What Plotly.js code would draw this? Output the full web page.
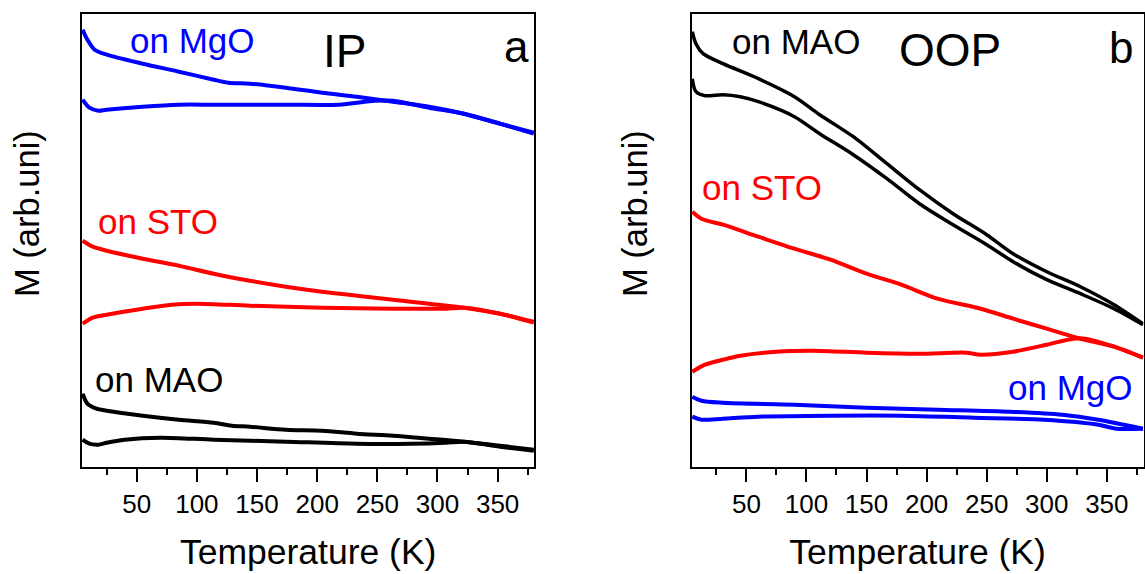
<!DOCTYPE html>
<html>
<head>
<meta charset="utf-8">
<script src="https://cdn.plot.ly/plotly-3.0.1.min.js"></script>
<style>html,body{margin:0;padding:0;background:#fff;}#chart{width:1145px;height:574px;}</style>
</head>
<body>
<div id="chart"></div>
<script>
// ---------- Panel a (IP) ----------
const ipMgoUpT = [5, 9, 15, 25, 55, 85, 114, 126, 144, 174, 204, 233, 263, 293, 322, 352, 380];
const ipMgoUpM = [437, 427, 417, 412, 403, 395, 387, 384, 383, 379, 374, 370, 365, 360, 353, 343, 334];
const ipMgoDnT = [5, 10.6, 18, 25, 55, 85, 114, 174, 218, 248, 263, 293, 322, 352, 380];
const ipMgoDnM = [367, 359, 356, 357, 360, 362, 362, 362, 362, 366, 366, 359, 353, 343, 333];

const ipStoUpT = [5, 13.5, 25, 55, 85, 114, 144, 174, 204, 233, 263, 293, 322, 352, 380];
const ipStoUpM = [226, 220, 216, 208, 201, 193, 186, 180, 175, 171, 167, 163, 159, 153, 145];
const ipStoDnT = [5, 13.5, 25, 55, 79, 100, 144, 204, 263, 307, 322, 352, 380];
const ipStoDnM = [143, 149, 152, 158, 162, 163, 161, 159, 158, 158, 159, 153, 144];

const ipMaoUpT = [5, 9, 16.5, 25, 55, 85, 114, 129, 144, 174, 204, 233, 263, 293, 322, 352, 380];
const ipMaoUpM = [73, 63, 58, 56, 51, 47, 44, 41, 40, 37, 36, 33, 31, 28, 25, 21, 17];
const ipMaoDnT = [5, 10.6, 18, 25, 40, 70, 114, 174, 233, 278, 307, 322, 352, 380];
const ipMaoDnM = [27, 23, 22, 24, 27, 29, 27, 25, 23, 23, 24, 25, 20, 16];

// ---------- Panel b (OOP) ----------
const oopMaoUpT = [5, 8, 14, 30.5, 60, 90, 111, 139, 167, 194, 222, 250, 272, 300, 328, 356, 380];
const oopMaoUpM = [435, 423, 413, 403, 388, 370, 352, 330, 303, 277, 253, 232, 213, 195, 180, 162, 143];
const oopMaoDnT = [5, 8, 15.6, 30.5, 45, 60, 90, 111, 139, 167, 194, 222, 250, 272, 300, 328, 356, 380];
const oopMaoDnM = [388, 375, 371, 372, 370, 365, 350, 333, 312, 288, 263, 242, 222, 205, 187, 173, 158, 142];

const oopStoUpT = [5, 12.6, 30.5, 60, 90, 120, 150, 179, 209, 245, 272, 300, 328, 356, 380];
const oopStoUpM = [255, 248, 242, 230, 218, 207, 193, 182, 168, 158, 148, 138, 128, 120, 109];
const oopStoDnT = [5, 15.6, 30.5, 45, 75, 105, 150, 194, 233, 245, 272, 300, 322, 332, 356, 380];
const oopStoDnM = [95, 102, 107, 111, 115, 116, 114, 113, 114, 112, 115, 122, 128, 128, 120, 109];

const oopMgoUpT = [5, 12.6, 30.5, 90, 150, 209, 269, 313, 343, 380];
const oopMgoUpM = [70, 66, 64, 62, 59, 57, 55, 52, 47, 38];
const oopMgoDnT = [5, 12.6, 30.5, 60, 120, 179, 239, 298, 343, 358, 380];
const oopMgoDnM = [50, 47, 48, 50, 51, 51, 49, 47, 42, 38, 38];

const xTickVals = [50, 100, 150, 200, 250, 300, 350];
const labels = {
  a: ["on MgO", "IP", "a", "on STO", "on MAO"],
  b: ["on MAO", "OOP", "b", "on STO", "on MgO"]
};
const xTitle = "Temperature (K)";
const yTitle = "M (arb.uni)";

const FONT = "Arial, 'Liberation Sans', sans-serif";
const BLUE = "#0000ff", RED = "#ff0000", BLACK = "#000000";

function tr(x, y, xa, ya, color, w) {
  return {x: x, y: y, xaxis: xa, yaxis: ya, mode: "lines", type: "scatter",
    line: {color: color, width: w, shape: "spline", smoothing: 0.8}, hoverinfo: "skip", showlegend: false};
}

const data = [
  tr(ipMgoUpT, ipMgoUpM, "x", "y", BLUE, 4),
  tr(ipMgoDnT, ipMgoDnM, "x", "y", BLUE, 4),
  tr(ipStoUpT, ipStoUpM, "x", "y", RED, 4),
  tr(ipStoDnT, ipStoDnM, "x", "y", RED, 4),
  tr(ipMaoUpT, ipMaoUpM, "x", "y", BLACK, 4),
  tr(ipMaoDnT, ipMaoDnM, "x", "y", BLACK, 4),
  tr(oopMaoUpT, oopMaoUpM, "x2", "y2", BLACK, 3.5),
  tr(oopMaoDnT, oopMaoDnM, "x2", "y2", BLACK, 3.5),
  tr(oopStoUpT, oopStoUpM, "x2", "y2", RED, 4),
  tr(oopStoDnT, oopStoDnM, "x2", "y2", RED, 4),
  tr(oopMgoUpT, oopMgoUpM, "x2", "y2", BLUE, 4),
  tr(oopMgoDnT, oopMgoDnM, "x2", "y2", BLUE, 4)
];

function xax(domain) {
  return {domain: domain, range: [4.5, 380.5], showline: true, mirror: true, linecolor: "#000", linewidth: 2,
    ticks: "outside", ticklen: 13, tickwidth: 2, tickcolor: "#000", tickvals: xTickVals,
    ticktext: xTickVals.map(String),
    minor: {ticks: "outside", ticklen: 6, tickwidth: 2, tickcolor: "#000", dtick: 25, tick0: 0, showgrid: false},
    tickfont: {family: FONT, size: 26, color: "#000"}, showgrid: false, zeroline: false, automargin: false,
    title: {text: xTitle, font: {family: FONT, size: 35.5, color: "#000"}, standoff: 21}};
}
function yax(domain, anchor) {
  return {domain: domain, range: [0, 453.2], showline: true, mirror: true, linecolor: "#000", linewidth: 2,
    ticks: "", showticklabels: false, showgrid: false, zeroline: false, anchor: anchor, automargin: false};
}

const W = 1145, H = 574;
const px = v => v / W, py = v => 1 - v / H;
const yDom = [1 - 466.7 / H, 1 - 13.5 / H];

function ann(text, x, y, size, color, xanchor, angle) {
  return {text: text, x: px(x), y: py(y), xref: "paper", yref: "paper", showarrow: false,
    xanchor: xanchor || "left", yanchor: "middle", textangle: angle || 0,
    font: {family: FONT, size: size, color: color}};
}

const annotations = [
  ann(labels.a[0], 128, 41, 35, BLUE),
  ann(labels.a[1], 344, 51, 46, BLACK, "center"),
  ann(labels.a[2], 516, 46, 44, BLACK, "center"),
  ann(labels.a[3], 96, 221, 35, RED),
  ann(labels.a[4], 93, 379, 35, BLACK),
  ann(labels.b[0], 730, 42, 35, BLACK),
  ann(labels.b[1], 950, 50, 46, BLACK, "center"),
  ann(labels.b[2], 1121, 48, 44, BLACK, "center"),
  ann(labels.b[3], 700, 187, 35, RED),
  ann(labels.b[4], 1006, 387, 35, BLUE),
  ann(yTitle, 27, 214, 34.5, BLACK, "center", -90),
  ann(yTitle, 635, 214, 34.5, BLACK, "center", -90)
];

const layout = {
  width: W, height: H, margin: {l: 0, r: 0, t: 0, b: 0}, paper_bgcolor: "#fff", plot_bgcolor: "#fff",
  showlegend: false,
  xaxis: xax([82 / W, 534.3 / W]),
  yaxis: yax(yDom, "x"),
  xaxis2: Object.assign(xax([691.7 / W, 1143.5 / W]), {anchor: "y2"}),
  yaxis2: yax(yDom, "x2"),
  annotations: annotations
};
layout.xaxis.anchor = "y";

Plotly.newPlot("chart", data, layout, {staticPlot: true, displayModeBar: false});
</script>
</body>
</html>
